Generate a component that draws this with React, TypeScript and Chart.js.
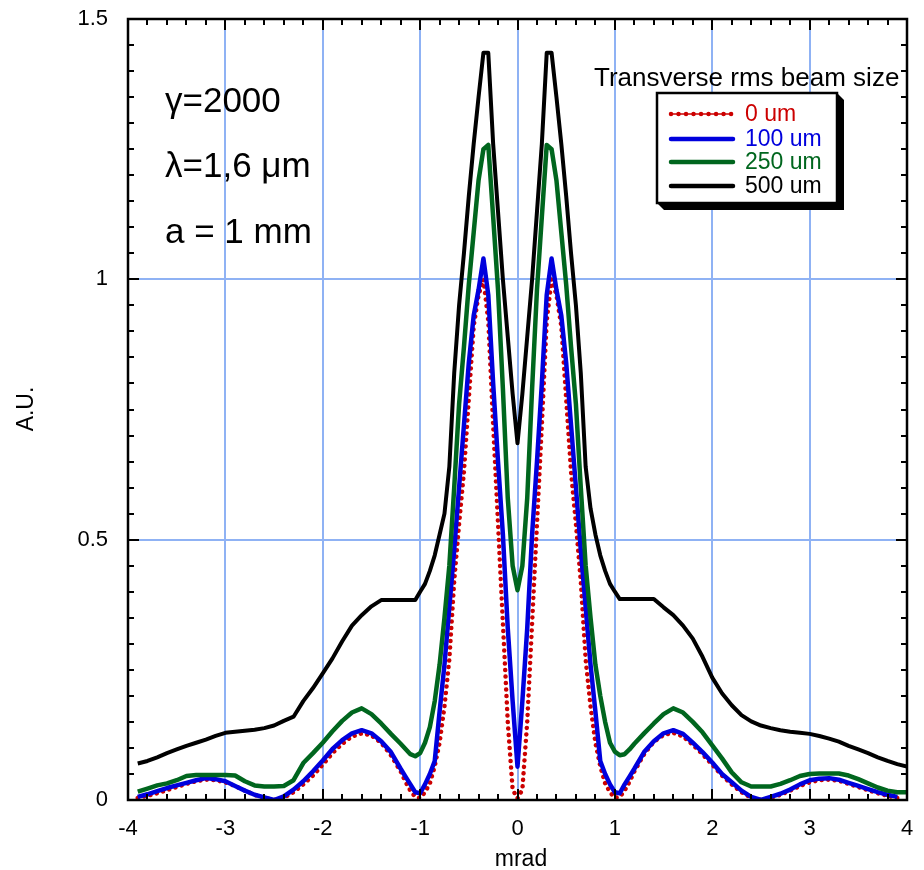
import React, { useEffect, useRef } from "react";
import { Chart, registerables } from "chart.js";

Chart.register(...registerables);

// x positions (mrad)
const xValues = [
  -3.9, -3.8, -3.7, -3.6, -3.5, -3.4, -3.3, -3.2, -3.1, -3.0, -2.9, -2.8, -2.7, -2.6, -2.5, -2.4, -2.3, -2.2, -2.1, -2.0,
  -1.9, -1.8, -1.7, -1.6, -1.5, -1.4, -1.3, -1.2, -1.15, -1.1, -1.05, -1.0, -0.95, -0.9, -0.85, -0.8, -0.75, -0.7, -0.65, -0.6,
  -0.55, -0.5, -0.45, -0.4, -0.35, -0.3, -0.25, -0.2, -0.15, -0.1, -0.05,
  0,
  0.05, 0.1, 0.15, 0.2, 0.25, 0.3, 0.35, 0.4, 0.45, 0.5, 0.55, 0.6, 0.65, 0.7, 0.75, 0.8, 0.85, 0.9, 0.95, 1.0, 1.05, 1.1, 1.15,
  1.2, 1.3, 1.4, 1.5, 1.6, 1.7, 1.8, 1.9, 2.0, 2.1, 2.2, 2.3, 2.4, 2.5, 2.6, 2.7, 2.8, 2.9, 3.0, 3.1, 3.2, 3.3, 3.4, 3.5,
  3.6, 3.7, 3.8, 3.9, 4.0,
];

// 0 um
const beam0um = [
  0.004, 0.008, 0.013, 0.019, 0.025, 0.031, 0.036, 0.039, 0.038, 0.034, 0.027, 0.018, 0.01, 0.004, 0.0, 0.004, 0.015, 0.03, 0.047, 0.068,
  0.09, 0.108, 0.122, 0.128, 0.124, 0.11, 0.086, 0.055, 0.035, 0.018, 0.006, 0.004, 0.015, 0.032, 0.065, 0.11, 0.18, 0.27, 0.42, 0.53,
  0.63, 0.77, 0.91, 0.97, 1.0, 0.92, 0.72, 0.53, 0.34, 0.15, 0.02,
  0.003,
  0.02, 0.15, 0.34, 0.53, 0.72, 0.92, 1.0, 0.97, 0.91, 0.77, 0.63, 0.53, 0.42, 0.27, 0.18, 0.11, 0.065, 0.032, 0.015, 0.004, 0.006, 0.018, 0.035,
  0.055, 0.088, 0.112, 0.125, 0.129, 0.122, 0.106, 0.088, 0.068, 0.047, 0.03, 0.015, 0.004, 0.0, 0.004, 0.01, 0.018, 0.027, 0.034, 0.038, 0.039, 0.037, 0.031, 0.025,
  0.019, 0.013, 0.008, 0.004, null,
];

// 100 um
const beam100um = [
  0.006, 0.011, 0.017, 0.023, 0.028, 0.033, 0.038, 0.042, 0.04, 0.036, 0.027, 0.018, 0.01, 0.005, 0.0, 0.007, 0.02, 0.036, 0.055, 0.076,
  0.098, 0.115, 0.128, 0.134, 0.128, 0.113, 0.092, 0.06, 0.045, 0.03, 0.015, 0.013, 0.03, 0.05, 0.075, 0.17, 0.26, 0.37, 0.48, 0.6,
  0.72, 0.84, 0.93, 0.98, 1.04, 0.97, 0.8, 0.65, 0.51, 0.33, 0.19,
  0.064,
  0.19, 0.33, 0.51, 0.65, 0.8, 0.97, 1.04, 0.98, 0.93, 0.84, 0.72, 0.6, 0.48, 0.37, 0.26, 0.17, 0.075, 0.05, 0.03, 0.015, 0.013, 0.03, 0.045,
  0.06, 0.092, 0.113, 0.128, 0.134, 0.127, 0.11, 0.092, 0.072, 0.05, 0.034, 0.018, 0.006, 0.0, 0.006, 0.012, 0.02, 0.03, 0.038, 0.041, 0.042, 0.039, 0.033, 0.027,
  0.021, 0.015, 0.01, 0.006, null,
];

// 250 um
const beam250um = [
  0.016, 0.022, 0.028, 0.032, 0.038, 0.046, 0.048, 0.048, 0.048, 0.048, 0.047, 0.036, 0.028, 0.026, 0.026, 0.027, 0.038, 0.071, 0.09, 0.11,
  0.132, 0.152, 0.168, 0.176, 0.165, 0.147, 0.127, 0.108, 0.098, 0.088, 0.084, 0.09, 0.11, 0.14, 0.19, 0.26, 0.35, 0.45, 0.6, 0.76,
  0.87, 0.99, 1.09, 1.19, 1.25, 1.258, 1.12, 0.98, 0.79, 0.58, 0.45,
  0.403,
  0.45, 0.58, 0.79, 0.98, 1.12, 1.258, 1.25, 1.19, 1.09, 0.99, 0.87, 0.76, 0.6, 0.45, 0.35, 0.26, 0.2, 0.15, 0.11, 0.093, 0.086, 0.088, 0.097,
  0.108, 0.128, 0.147, 0.165, 0.176, 0.168, 0.15, 0.13, 0.105, 0.08, 0.053, 0.034, 0.026, 0.026, 0.026, 0.031, 0.038, 0.046, 0.05, 0.051, 0.051, 0.051, 0.047, 0.04,
  0.032, 0.024, 0.018, 0.015, 0.015,
];

// 500 um
const beam500um = [
  0.07, 0.075, 0.082, 0.09, 0.097, 0.104, 0.11, 0.116, 0.123, 0.129, 0.131, 0.133, 0.135, 0.138, 0.143, 0.152, 0.16, 0.19, 0.215, 0.243,
  0.272, 0.305, 0.335, 0.355, 0.372, 0.384, 0.384, 0.384, 0.384, 0.384, 0.384, 0.4, 0.415, 0.44, 0.47, 0.51, 0.55, 0.64, 0.82, 0.95,
  1.05, 1.16, 1.26, 1.35, 1.435, 1.435, 1.26, 1.13, 1.0, 0.89, 0.78,
  0.685,
  0.78, 0.89, 1.0, 1.13, 1.26, 1.435, 1.435, 1.35, 1.26, 1.16, 1.05, 0.95, 0.82, 0.64, 0.56, 0.51, 0.47, 0.44, 0.415, 0.4, 0.386, 0.386, 0.386,
  0.386, 0.386, 0.386, 0.37, 0.355, 0.335, 0.31, 0.275, 0.235, 0.205, 0.182, 0.163, 0.151, 0.143, 0.138, 0.134, 0.131, 0.129, 0.127, 0.123, 0.118, 0.112, 0.104, 0.097,
  0.09, 0.082, 0.075, 0.069, 0.064,
];

const seriesLabels = ["0 um", "100 um", "250 um", "500 um"];
const seriesColors = ["#cc0000", "#0000dd", "#00661e", "#000000"];
const annotationLines = ["\u03b3=2000", "\u03bb=1,6 \u03bcm", "a = 1 mm"];
const legendTitle = "Transverse rms beam size";
const xTitle = "mrad";
const yTitle = "A.U.";

const FONT = "'Liberation Sans', Arial, sans-serif";

Chart.defaults.font.family = FONT;
Chart.defaults.font.size = 22;
Chart.defaults.color = "#000";

const framePlugin = {
  id: "frame",
  afterDatasetsDraw(chart: any) {
    const { ctx, chartArea: a, scales } = chart;
    const xs = scales.x;
    const ys = scales.y;
    ctx.save();
    // frame
    ctx.strokeStyle = "#000";
    ctx.lineWidth = 2.5;
    ctx.strokeRect(a.left, a.top, a.right - a.left, a.bottom - a.top);
    // inward ticks
    ctx.lineWidth = 2;
    ctx.beginPath();
    for (let k = 0; k <= 40; k++) {
      const v = -4 + k * 0.2;
      const px = Math.round(xs.getPixelForValue(v));
      const len = k % 5 === 0 ? 11 : 6;
      ctx.moveTo(px, a.bottom);
      ctx.lineTo(px, a.bottom - len);
      ctx.moveTo(px, a.top);
      ctx.lineTo(px, a.top + len);
    }
    for (let k = 0; k <= 30; k++) {
      const v = k * 0.05;
      const py = Math.round(ys.getPixelForValue(v));
      const len = k % 10 === 0 ? 11 : 6;
      ctx.moveTo(a.left, py);
      ctx.lineTo(a.left + len, py);
      ctx.moveTo(a.right, py);
      ctx.lineTo(a.right - len, py);
    }
    ctx.stroke();

    // annotations
    ctx.fillStyle = "#000";
    ctx.font = `35px ${FONT}`;
    ctx.textAlign = "left";
    ctx.textBaseline = "alphabetic";
    const baselines = [112, 177, 243];
    annotationLines.forEach((t, i) => ctx.fillText(t, 165, baselines[i]));

    // legend title
    ctx.font = `26px ${FONT}`;
    ctx.fillText(legendTitle, 594, 86);

    // legend box with shadow
    const bx = 657, by = 93, bw = 180, bh = 110, sh = 7;
    ctx.fillStyle = "#000";
    ctx.beginPath();
    ctx.moveTo(bx + bw, by);
    ctx.lineTo(bx + bw + sh, by + sh);
    ctx.lineTo(bx + bw + sh, by + bh + sh);
    ctx.lineTo(bx + sh, by + bh + sh);
    ctx.lineTo(bx, by + bh);
    ctx.closePath();
    ctx.fill();
    ctx.fillStyle = "#fff";
    ctx.fillRect(bx, by, bw, bh);
    ctx.strokeStyle = "#000";
    ctx.lineWidth = 2.5;
    ctx.strokeRect(bx, by, bw, bh);

    const rows = [114, 139, 162, 186];
    ctx.font = `23px ${FONT}`;
    ctx.textBaseline = "middle";
    seriesLabels.forEach((lab, i) => {
      const y = rows[i];
      ctx.strokeStyle = seriesColors[i];
      ctx.lineCap = "round";
      if (i === 0) {
        ctx.lineWidth = 1.5;
        ctx.setLineDash([]);
        ctx.beginPath();
        ctx.moveTo(671, y);
        ctx.lineTo(732, y);
        ctx.stroke();
        ctx.lineWidth = 4.5;
        ctx.setLineDash([0.01, 7.5]);
        ctx.beginPath();
        ctx.moveTo(671, y);
        ctx.lineTo(733, y);
        ctx.stroke();
        ctx.setLineDash([]);
      } else {
        ctx.lineWidth = 4.5;
        ctx.beginPath();
        ctx.moveTo(671, y);
        ctx.lineTo(733, y);
        ctx.stroke();
      }
      ctx.fillStyle = seriesColors[i];
      ctx.fillText(lab, 745, y + 1);
    });

    // axis titles
    ctx.fillStyle = "#000";
    ctx.font = `23px ${FONT}`;
    ctx.textAlign = "center";
    ctx.textBaseline = "alphabetic";
    ctx.fillText(xTitle, 521, 866);
    ctx.save();
    ctx.translate(33, 409);
    ctx.rotate(-Math.PI / 2);
    ctx.fillText(yTitle, 0, 0);
    ctx.restore();

    ctx.restore();
  },
};

export default function App() {
  const ref = useRef<HTMLCanvasElement>(null);
  useEffect(() => {
    const pts = (ys: (number | null)[]) => xValues.map((x, i) => ({ x, y: ys[i] }));
    const common = {
      pointRadius: 0,
      pointHoverRadius: 0,
      tension: 0,
      fill: false,
      borderJoinStyle: "round" as const,
      spanGaps: false,
    };
    const tickFont = { family: FONT, size: 22 };
    const chart = new Chart(ref.current!, {
      type: "line",
      data: {
        datasets: [
          { ...common, label: seriesLabels[3], data: pts(beam500um), borderColor: seriesColors[3], borderWidth: 4, order: 0 },
          { ...common, label: seriesLabels[2], data: pts(beam250um), borderColor: seriesColors[2], borderWidth: 4.5, order: 1 },
          { ...common, label: seriesLabels[1], data: pts(beam100um), borderColor: seriesColors[1], borderWidth: 4.5, order: 2 },
          {
            ...common,
            label: seriesLabels[0],
            data: pts(beam0um),
            borderColor: seriesColors[0],
            borderWidth: 4.5,
            borderDash: [0.01, 6.5],
            borderCapStyle: "round",
            order: 3,
          },
        ] as any,
      },
      options: {
        animation: false,
        responsive: false,
        devicePixelRatio: 1,
        font: tickFont,
        layout: { padding: { top: 19, right: 17, left: 0, bottom: 0 } },
        plugins: { legend: { display: false }, tooltip: { enabled: false }, title: { display: false } },
        events: [],
        scales: {
          x: {
            type: "linear",
            min: -4,
            max: 4,
            afterFit: (s: any) => {
              s.height = 70;
              s.paddingLeft = 0;
              s.paddingRight = 0;
              s.paddingTop = 0;
              s.paddingBottom = 0;
            },
            ticks: { stepSize: 1, autoSkip: false, maxRotation: 0, color: "#000", padding: 16, font: tickFont },
            grid: { color: "#8fb2f4", lineWidth: 2, drawTicks: false },
            border: { display: false },
          },
          y: {
            type: "linear",
            min: 0,
            max: 1.5,
            afterFit: (s: any) => {
              s.width = 128;
              s.paddingLeft = 0;
              s.paddingRight = 0;
              s.paddingTop = 0;
              s.paddingBottom = 0;
            },
            ticks: {
              stepSize: 0.5,
              autoSkip: false,
              color: "#000",
              padding: 20,
              font: tickFont,
              callback: (v: any) => String(v),
            },
            grid: { color: "#8fb2f4", lineWidth: 2, drawTicks: false },
            border: { display: false },
          },
        },
      } as any,
      plugins: [framePlugin],
    });
    return () => chart.destroy();
  }, []);
  return (
    <div style={{ position: "fixed", left: 0, top: 0, width: 924, height: 870, background: "#fff" }}>
      <canvas ref={ref} width={924} height={870} style={{ display: "block" }} />
    </div>
  );
}
